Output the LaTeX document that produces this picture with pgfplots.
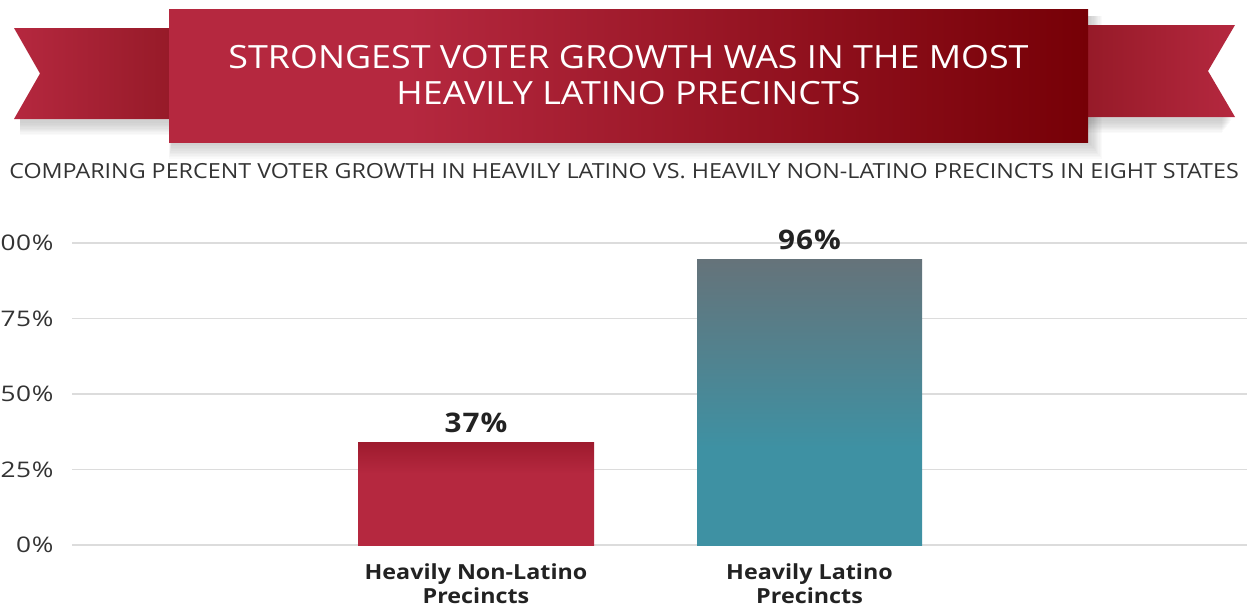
\documentclass[border=0pt]{standalone}
\usepackage{fontspec}
\setmainfont{Open Sans}[FakeStretch=1.12]
\newfontfamily\tickfont{Open Sans}[FakeStretch=1.22, LetterSpace=3]
\newfontfamily\barfont{Open Sans}[FakeStretch=1.1, LetterSpace=4]
\usepackage{pgfplots}
\pgfplotsset{compat=1.18}

\definecolor{ribred}{HTML}{B5283F}
\definecolor{ribdark}{HTML}{760006}
\definecolor{tailin}{HTML}{961A28}
\definecolor{barred}{HTML}{B5283F}
\definecolor{barredtop}{HTML}{9E1B2E}
\definecolor{barteal}{HTML}{3E91A3}
\definecolor{bargrey}{HTML}{65737A}
\definecolor{gridgrey}{HTML}{DCDCDC}
\definecolor{txt}{HTML}{333333}
\definecolor{lbl}{HTML}{222222}

% path box spans 25bp..75bp of a 100bp shading
\pgfdeclarehorizontalshading{banner}{100bp}{color(0bp)=(ribred); color(38bp)=(ribred); color(75bp)=(ribdark); color(100bp)=(ribdark)}
\pgfdeclareverticalshading{redbar}{100bp}{color(0bp)=(barred); color(60bp)=(barred); color(75bp)=(barredtop); color(100bp)=(barredtop)}
\pgfdeclareverticalshading{tealbar}{100bp}{color(0bp)=(barteal); color(42bp)=(barteal); color(75bp)=(bargrey); color(100bp)=(bargrey)}

\begin{document}
\begin{tikzpicture}
\begin{scope}[x=1pt, y=-1pt]
  % soft shadows
  \foreach \i in {1,...,10} {
    \fill[black, opacity=0.018] (20,{110+\i}) rectangle (170,{122+\i*1.3});
    \fill[black, opacity=0.018] (1088,{108+\i}) rectangle ({1232-\i},{120+\i*1.3});
    \fill[black, opacity=0.02] ({172-\i*0.3},16) rectangle ({1090+\i*1.2},{143+\i*1.6});
  }
  % ribbon tails
  \shade[left color=ribred, right color=tailin] (14,28) -- (172,28) -- (172,119) -- (14,119) -- (40,73.5) -- cycle;
  \shade[left color=tailin, right color=ribred] (1086,25) -- (1235,25) -- (1208,71) -- (1235,117) -- (1086,117) -- cycle;
  % main banner
  \shade[shading=banner] (169,9) rectangle (1088,142);
  \node[text=white, align=center, font=\fontsize{32}{36}\selectfont] at (628.5,75)
    {STRONGEST VOTER GROWTH WAS IN THE MOST\\HEAVILY LATINO PRECINCTS};
  \node[text=txt, font=\fontsize{20.8}{21}\selectfont] at (624,171)
    {COMPARING PERCENT VOTER GROWTH IN HEAVILY LATINO VS. HEAVILY NON-LATINO PRECINCTS IN EIGHT STATES};
\end{scope}

\begin{axis}[
    at={(72pt,-545pt)}, anchor=south west,
    scale only axis, width=1175pt, height=302pt,
    xmin=-1.2114, xmax=2.3118, ymin=0, ymax=100,
    ytick={0,25,50,75,100},
    yticklabel={\pgfmathprintnumber{\tick}\%},
    /pgf/number format/assume math mode=true,
    xtick={0,1},
    xticklabels={Heavily Non-Latino\\Precincts, Heavily Latino\\Precincts},
    xticklabel style={font=\bfseries\fontsize{20.8}{24}\selectfont, align=center, text=lbl, anchor=north, yshift=-11pt},
    yticklabel style={font=\tickfont\fontsize{21.5}{22}\selectfont, text=txt, anchor=east, xshift=-15pt},
    ymajorgrids, grid style={gridgrey, line width=1.3pt},
    axis line style={draw=none}, major tick style={draw=none},
    ybar, bar shift=0pt,
    nodes near coords, point meta=explicit symbolic,
    every node near coord/.append style={font=\barfont\bfseries\fontsize{27}{27}\selectfont, text=lbl, anchor=base, inner sep=0pt, yshift=10pt},
    clip=false,
]
\addplot[draw=none, shading=redbar, bar width=236pt] coordinates {(0,33.8) [37\%]};
\addplot[draw=none, shading=tealbar, bar width=225pt] coordinates {(1,94.4) [96\%]};
\end{axis}
% page is exactly the reference frame; the cut-off "100%" spills past the left edge
\pgfresetboundingbox
\path[use as bounding box] (0pt,0pt) rectangle (1247pt,-605pt);
\end{tikzpicture}
\end{document}
